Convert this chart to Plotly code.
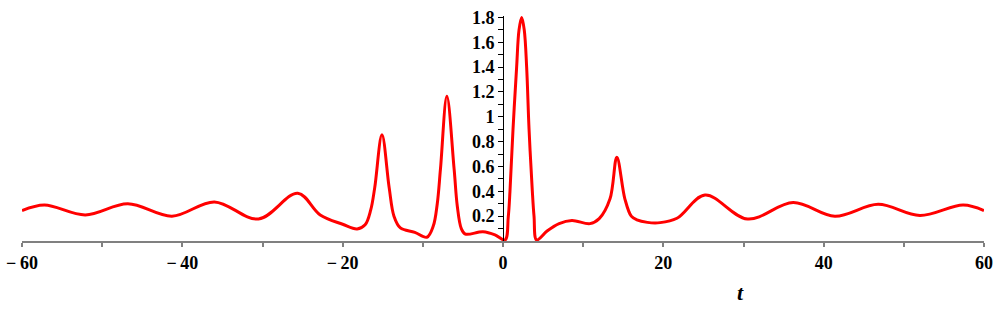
import plotly.graph_objects as go

t_vals = [-60, -57.2, -52.1, -46.8, -41.3, -36.0, -30.5, -25.6, -22.8, -20.0, -18.2, -17.2,
          -16.5, -16.0, -15.1, -14.2, -13.6, -12.8, -11.0, -9.5, -8.7, -8.2, -7.8, -7.0,
          -6.1, -5.7, -5.2, -4.7, -2.5, -1.0, 0.25, 0.66, 0.87, 1.25, 1.7, 2.0, 2.33,
          2.65, 2.95, 3.25, 3.66, 3.87, 4.2, 5.5, 7.0, 8.6, 10.85, 12.0, 13.35, 14.2,
          15.2, 16.0, 16.7, 18.0, 19.6, 21.7, 25.2, 30.5, 36.2, 41.4, 46.8, 52.0, 57.4, 60]
y_vals = [0.245, 0.29, 0.21, 0.30, 0.20, 0.315, 0.177, 0.385, 0.21, 0.135, 0.097, 0.13,
          0.25, 0.43, 0.855, 0.43, 0.2, 0.105, 0.07, 0.03, 0.12, 0.3, 0.58, 1.165,
          0.58, 0.28, 0.1, 0.056, 0.075, 0.05, 0.008, 0.196, 0.4, 0.9, 1.4, 1.7, 1.8,
          1.7, 1.4, 0.9, 0.4, 0.2, 0.008, 0.08, 0.14, 0.165, 0.14, 0.18, 0.34, 0.675,
          0.34, 0.2, 0.17, 0.15, 0.148, 0.183, 0.37, 0.177, 0.31, 0.20, 0.295, 0.205, 0.29, 0.245]

x_ticks = [-60, -50, -40, -30, -20, -10, 0, 10, 20, 30, 40, 50, 60]
x_labels = ["\u2212\u200960", "", "\u2212\u200940", "", "\u2212\u200920", "", "0", "", "20", "", "40", "", "60"]
y_ticks = [0.1, 0.2, 0.3, 0.4, 0.5, 0.6, 0.7, 0.8, 0.9, 1.0, 1.1, 1.2, 1.3, 1.4, 1.5, 1.6, 1.7, 1.8]
y_labels = ["", "0.2", "", "0.4", "", "0.6", "", "0.8", "", "1", "", "1.2", "", "1.4", "", "1.6", "", "1.8"]

font_family = "Liberation Serif"

fig = go.Figure()
fig.add_trace(go.Scatter(x=t_vals, y=y_vals, mode="lines",
                         line=dict(color="#ff0000", width=3, shape="spline", smoothing=1),
                         showlegend=False, hoverinfo="skip"))

fig.update_layout(
    width=1000, height=309,
    margin=dict(l=22, r=16, t=16, b=68, autoexpand=False),
    paper_bgcolor="white", plot_bgcolor="white",
    xaxis=dict(range=[-60, 60], tickvals=x_ticks, ticktext=x_labels, automargin=False,
               ticklabeloverflow="allow",
               showgrid=False, zeroline=False, showline=True, linecolor="#808080",
               linewidth=2, ticks="outside", ticklen=4, tickcolor="#808080", tickwidth=1.5,
               tickfont=dict(family=font_family, size=18, color="black", weight="bold"),
               anchor="y"),
    yaxis=dict(range=[0, 1.812], tickvals=y_ticks, ticktext=y_labels, automargin=False,
               ticklabeloverflow="allow",
               showgrid=False, zeroline=False, showline=True, linecolor="black",
               linewidth=1, ticks="outside", ticklen=5, tickcolor="black", tickwidth=1,
               tickfont=dict(family=font_family, size=18, color="black", weight="bold"),
               anchor="free", position=0.5),
)

fig.add_annotation(x=29.6, y=-0.227, xref="x", yref="paper", yanchor="middle",
                   xanchor="center", text="<b><i>t</i></b>",
                   showarrow=False, font=dict(family=font_family, size=22, color="black"))

# remove the browser's default 8px body margin so the figure fills the window
fig.write_html("out.html", config={"displayModeBar": False},
               post_script="document.body.style.margin='0';")
